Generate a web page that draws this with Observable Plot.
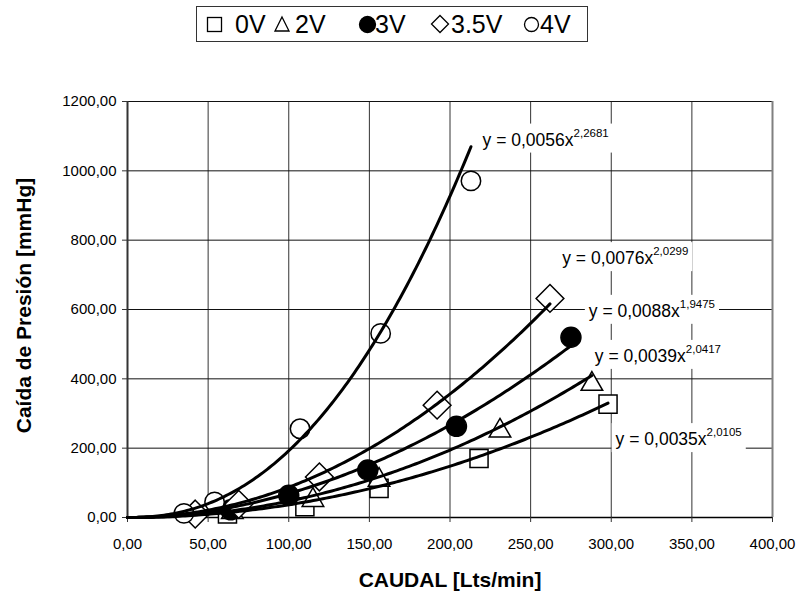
<!DOCTYPE html>
<html>
<head>
<meta charset="utf-8">
<script src="https://cdn.jsdelivr.net/npm/d3@7"></script>
<script src="https://cdn.jsdelivr.net/npm/@observablehq/plot@0.6"></script>
<style>
  body { margin: 0; background: #fff; font-family: "Liberation Sans", Arial, sans-serif; }
  #wrap { width: 798px; height: 592px; position: relative; overflow: hidden; background: #fff; }
  #legend { height: 50px; position: relative; }
  #legend .box {
    position: absolute; left: 196px; top: 6px; width: 390px; height: 34px;
    border: 1px solid #333; background: #fff;
  }
  #legend .item { position: absolute; top: 0; height: 34px; line-height: 34px; font-size: 25px; color: #000; white-space: pre; }
  #legend svg { position: absolute; }
</style>
</head>
<body>
<div id="wrap"><div id="legend"><div class="box"></div></div><div id="chart"></div></div>
<script>
// ---------- data ----------
const series = ["0V", "2V", "3V", "3.5V", "4V"];

const caudal0V  = [62, 110, 156, 218, 298];
const presion0V = [10, 31, 84, 170, 327];
const caudal2V  = [65, 115, 156, 231, 288];
const presion2V = [15, 50, 108, 250, 385];
const caudal3V  = [64, 100, 149, 204, 275];
const presion3V = [22, 64, 137, 263, 520];
const caudal35V  = [42, 69, 119, 192, 262];
const presion35V = [10, 38, 117, 324, 632];
const caudal4V  = [35, 54, 107, 157, 213];
const presion4V = [12, 45, 256, 531, 971];

// trendline coefficients y = a x^b (as printed)
const coefA = [0.0035, 0.0039, 0.0088, 0.0076, 0.0056];
const coefB = [2.0105, 2.0417, 1.9475, 2.0299, 2.2681];

const xTicks = [0, 50, 100, 150, 200, 250, 300, 350, 400];
const yTicks = [0, 200, 400, 600, 800, 1000, 1200];

const xTitle = "CAUDAL [Lts/min]";
const yTitle = "Caída de Presión [mmHg]";

// ---------- build tables ----------
const caudal = [caudal0V, caudal2V, caudal3V, caudal35V, caudal4V];
const presion = [presion0V, presion2V, presion3V, presion35V, presion4V];

const points = series.flatMap((s, i) => caudal[i].map((x, j) => ({serie: s, x, y: presion[i][j]})));
const curves = series.flatMap((s, i) => {
  const xmax = d3.max(caudal[i]);
  return d3.range(0, 151).map(k => {
    const x = xmax * k / 150;
    return {serie: s, x, y: coefA[i] * Math.pow(x, coefB[i])};
  });
});

const comma = (v, n) => v.toFixed(n).replace(".", ",");

// label anchors (data units) for the trendline equations
const labelPos = [[302.7, 225], [289.8, 465], [286.1, 595], [269.6, 747], [220.2, 1089]];
const labels = series.map((s, i) => ({
  i, x: labelPos[i][0], y: labelPos[i][1],
  text: "y = " + comma(coefA[i], 4) + "x", exp: comma(coefB[i], 4)
}));

// marker styles
const symbols = ["square", "triangle", "circle", "diamond2", "circle"];
const fills = ["white", "white", "black", "white", "white"];
const radii = [10.2, 8, 10, 12.5, 9.7];

// ---------- legend (layout in px relative to the legend box) ----------
const legendGlyphX = [10, 77, 162, 234, 327];
const legendTextX = [38, 98, 178, 254, 343];
const legendGlyphW = [15, 16, 17, 18, 15];
const boxEl = document.querySelector("#legend .box");
const svgNS = "http://www.w3.org/2000/svg";
series.forEach((s, i) => {
  const w = legendGlyphW[i], h = w;
  const g = document.createElementNS(svgNS, "svg");
  g.setAttribute("width", w + 2); g.setAttribute("height", h + 2);
  g.style.left = (legendGlyphX[i] - 1) + "px";
  g.style.top = (17 - (h + 2) / 2) + "px";
  let shape;
  const c = (w + 2) / 2;
  if (symbols[i] === "square") {
    shape = document.createElementNS(svgNS, "rect");
    shape.setAttribute("x", 1.5); shape.setAttribute("y", 1.5);
    shape.setAttribute("width", w - 1); shape.setAttribute("height", h - 1);
  } else if (symbols[i] === "triangle") {
    shape = document.createElementNS(svgNS, "polygon");
    shape.setAttribute("points", `${c},2 ${w},${h} 2,${h}`);
  } else if (symbols[i] === "diamond2") {
    shape = document.createElementNS(svgNS, "polygon");
    shape.setAttribute("points", `${c},1.5 ${w + 0.5},${c} ${c},${h + 0.5} 1.5,${c}`);
  } else {
    shape = document.createElementNS(svgNS, "circle");
    shape.setAttribute("cx", c); shape.setAttribute("cy", c); shape.setAttribute("r", w / 2 - 0.5);
  }
  shape.setAttribute("fill", fills[i]);
  shape.setAttribute("stroke", "black");
  shape.setAttribute("stroke-width", "1.3");
  g.appendChild(shape);
  boxEl.appendChild(g);
  const t = document.createElement("span");
  t.className = "item";
  t.style.left = legendTextX[i] + "px";
  t.textContent = s;
  boxEl.appendChild(t);
});

// ---------- plot ----------
const pointMarks = series.map((s, i) => Plot.dot(points.filter(d => d.serie === s), {
  x: "x", y: "y", symbol: () => symbols[i], r: radii[i],
  fill: fills[i], stroke: "black", strokeWidth: 1.5
}));

const yMid = (yTicks[0] + yTicks[yTicks.length - 1]) / 2;
const xMid = (xTicks[0] + xTicks[xTicks.length - 1]) / 2;

const chart = Plot.plot({
  width: 798,
  height: 542,
  marginLeft: 127,
  marginRight: 26,
  marginTop: 51,
  marginBottom: 75,
  style: {fontFamily: "'Liberation Sans', Arial, sans-serif", color: "black", background: "white", overflow: "visible"},
  x: {domain: [0, 400]},
  y: {domain: [0, 1200]},
  symbol: {type: "identity"},
  marks: [
    Plot.ruleX(xTicks.slice(1, -1), {stroke: "#333", strokeWidth: 1}),
    Plot.ruleY(yTicks.slice(1), {stroke: "#111", strokeWidth: 1}),
    Plot.ruleX([400], {stroke: "#808080", strokeWidth: 2}),
    Plot.ruleX([0], {stroke: "#333", strokeWidth: 2}),
    Plot.ruleY([0], {stroke: "#000", strokeWidth: 1.5}),
    Plot.axisY(yTicks, {anchor: "left", tickFormat: d => comma(d, 2), tickSize: 5, tickPadding: 6, fontSize: 15, label: null, stroke: "#333"}),
    Plot.axisX(xTicks, {anchor: "bottom", tickFormat: d => comma(d, 2), tickSize: 5, tickPadding: 16, fontSize: 15, label: null, stroke: "#333"}),
    ...pointMarks,
    Plot.line(curves, {x: "x", y: "y", z: "serie", stroke: "black", strokeWidth: 3, curve: "linear"}),
    Plot.text(labels, {x: "x", y: "y", text: "text", textAnchor: "start", fontSize: 17.5, fill: "black", className: "eq"}),
    Plot.text([xTitle], {x: () => xMid, frameAnchor: "bottom", textAnchor: "middle", lineAnchor: "middle", dy: 63, fontWeight: "bold", fontSize: 21, fill: "black"}),
    Plot.text([yTitle], {y: () => yMid, frameAnchor: "left", textAnchor: "middle", lineAnchor: "middle", rotate: -90, dx: -103, dy: -4, fontWeight: "bold", fontSize: 21, fill: "black"})
  ]
});
document.getElementById("chart").appendChild(chart);

// superscript exponents and white label boxes
const eqTexts = chart.querySelectorAll("g.eq text");
eqTexts.forEach((t, k) => {
  const tsp = document.createElementNS(svgNS, "tspan");
  tsp.setAttribute("dy", "-9");
  tsp.setAttribute("font-size", "11.5");
  tsp.textContent = labels[k].exp;
  t.appendChild(tsp);
  const bb = t.getBBox();
  const rect = document.createElementNS(svgNS, "rect");
  rect.setAttribute("x", bb.x - 4);
  rect.setAttribute("y", bb.y - 3);
  rect.setAttribute("width", bb.width + 8);
  rect.setAttribute("height", bb.height + 6);
  rect.setAttribute("fill", "white");
  if (t.getAttribute("transform")) rect.setAttribute("transform", t.getAttribute("transform"));
  t.parentNode.insertBefore(rect, t);
});
</script>
</body>
</html>
